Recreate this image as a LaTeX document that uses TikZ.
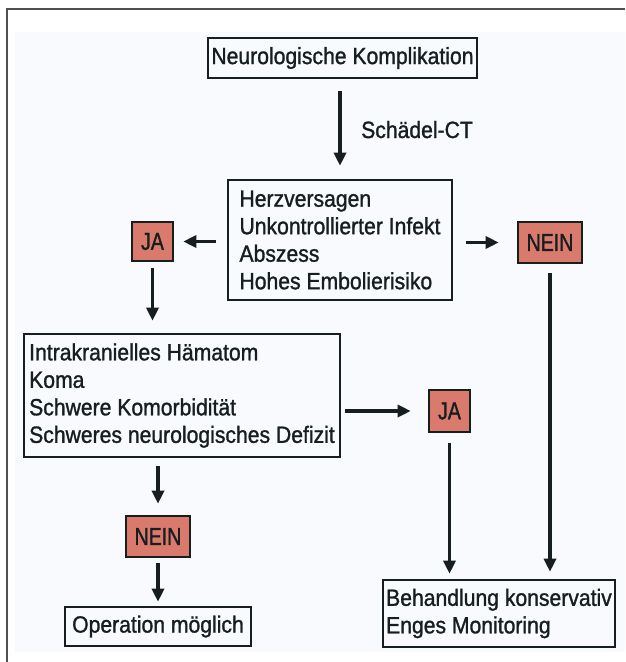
\documentclass[tikz,border=0pt]{standalone}
\usepackage{fontspec}
\setmainfont[FakeStretch=0.9,FakeBold=1.2]{Liberation Sans}
\newfontfamily\labfont[FakeStretch=0.8,FakeBold=1.2]{Liberation Sans}
\usetikzlibrary{arrows.meta}
\definecolor{ink}{RGB}{22,30,32}
\definecolor{salmon}{RGB}{218,122,108}
\definecolor{tint}{RGB}{248,250,253}
\definecolor{framecol}{RGB}{80,80,80}
\begin{document}
\begin{tikzpicture}[x=1pt,y=-1pt,
  box/.style={draw=ink, line width=2.6pt, text=ink, font=\fontsize{23.5}{27.5}\selectfont, align=left, inner sep=0pt},
  tag/.style={draw=ink, fill=salmon, line width=2.6pt, text=ink, font=\labfont\fontsize{24.5}{26}\selectfont, inner sep=0pt},
  arr/.style={draw=ink, line width=3.4pt, -{Triangle[length=13pt,width=12pt]}}]
\useasboundingbox (0,0) rectangle (625,662);
\fill[white] (0,0) rectangle (625,662);
\fill[tint] (15,32) rectangle (625,652);
\draw[framecol, line width=2pt] (7,662) -- (7,9) -- (625,9);

\node[box, minimum width=269, minimum height=40] (b1) at (342.5,58) {Neurologische Komplikation};
\node[box, minimum width=224, minimum height=120] (b2) at (340,240) {Herzversagen\\Unkontrollierter Infekt\\Abszess\\Hohes Embolierisiko};
\node[tag, minimum width=41, minimum height=39] (ja1) at (152.5,241.5) {JA};
\node[tag, minimum width=64, minimum height=41] (nein1) at (550,242.5) {NEIN};
\node[box, minimum width=316, minimum height=123] (b3) at (182,395.5) {Intrakranielles Hämatom\\Koma\\Schwere Komorbidität\\Schweres neurologisches Defizit};
\node[tag, minimum width=41, minimum height=42] (ja2) at (449.5,411) {JA};
\node[tag, minimum width=64, minimum height=41] (nein2) at (158,536.5) {NEIN};
\node[box, minimum width=186, minimum height=39] (b5) at (158,626.5) {Operation möglich};
\node[box, minimum width=232, minimum height=67] (b4) at (499,613.5) {Behandlung konservativ\\Enges Monitoring};
\node[text=ink, font=\fontsize{23.5}{27.5}\selectfont, anchor=base west, inner sep=0pt] (ct) at (361,138) {Schädel-CT};

\draw[arr, shorten <=12pt, shorten >=13pt] (b1.south -| b2.north) -- (b2.north);
\draw[arr, shorten <=11pt, shorten >=9pt] (b2.west |- ja1.east) -- (ja1.east);
\draw[arr, shorten <=13pt, shorten >=18pt] (b2.east |- nein1.west) -- (nein1.west);
\draw[arr, shorten <=6pt, shorten >=12pt] (ja1.south) -- (ja1.south |- b3.north);
\draw[arr, shorten <=4pt, shorten >=17pt] (b3.east |- ja2.west) -- (ja2.west);
\draw[arr, shorten <=10pt, shorten >=5pt] (ja2.south) -- (ja2.south |- b4.north);
\draw[arr, shorten <=9pt, shorten >=7pt] (nein1.south) -- (nein1.south |- b4.north);
\draw[arr, shorten <=8pt, shorten >=11pt] (nein2.north |- b3.south) -- (nein2.north);
\draw[arr, shorten <=5pt, shorten >=4pt] (nein2.south) -- (nein2.south |- b5.north);
\end{tikzpicture}
\end{document}
